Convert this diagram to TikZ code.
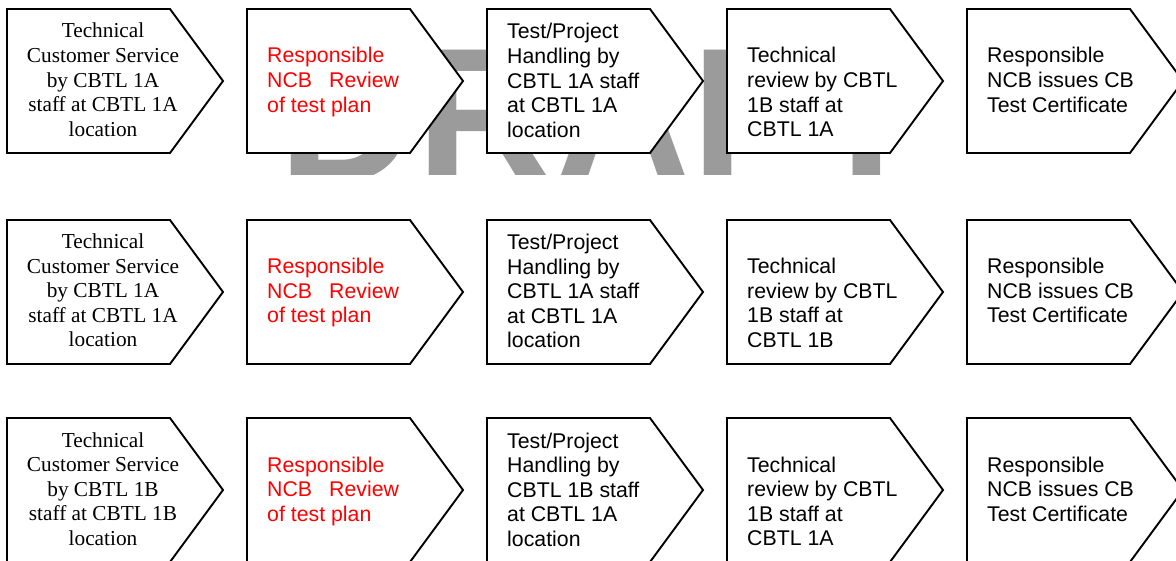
\documentclass[tikz,border=0pt]{standalone}
\usepackage{fontspec}
\setmainfont{Liberation Serif}
\setsansfont{Liberation Sans}

\definecolor{wmgrey}{RGB}{155,155,155}
\definecolor{ncbred}{RGB}{255,0,0}

\tikzset{
    chevron/.style={draw=black, fill=white, line width=1.9pt, line join=miter},
    % multi-line nodes sit on the baseline of their last line
    servtext/.style={anchor=base, align=center, inner sep=0pt,
        font=\rmfamily\fontsize{21.3}{24.6}\selectfont},
    steptext/.style={anchor=base west, align=left, inner sep=0pt,
        font=\sffamily\fontsize{21.3}{24.6}\selectfont},
    ncbtext/.style={steptext, text=ncbred},
    watermark/.style={anchor=base west, inner sep=0pt, text=wmgrey,
        font=\sffamily\bfseries\fontsize{191}{191}\selectfont},
}

% one arrow-shaped step box, top left corner at (#1,#2)
\newcommand\chevronat[2]{%
    \path[chevron] (#1,#2) -- ++(163,0) -- ++(53,72) -- ++(-53,72) -- ++(-163,0) -- cycle;}

\begin{document}
\begin{tikzpicture}[x=1pt, y=-1pt]
    \useasboundingbox (0,0) rectangle (1176,561);

    % watermark, cut off below the first row
    \begin{scope}
        \clip (0,0) rectangle (1176,175);
        \node[watermark] (draft) at (278,182) {DRAFT};
    \end{scope}

    \foreach \rowtop in {9,220,418}
        \foreach \colleft in {7,247,487,727,967}
            {\chevronat{\colleft}{\rowtop}}

    % first row
    \node[servtext] (serv1) at (103,136.4) {Technical\\Customer Service\\by CBTL 1A\\staff at CBTL 1A\\location};
    \node[ncbtext] (review1) at (267,112.2) {Responsible\\NCB\hspace{17pt}Review\\of test plan};
    \node[steptext] (handle1) at (507,137.4) {Test/Project\\Handling by\\CBTL 1A staff\\at CBTL 1A\\location};
    \node[steptext] (tech1) at (747,136.8) {Technical\\review by CBTL\\1B staff at\\CBTL 1A};
    \node[steptext] (cert1) at (987,112.2) {Responsible\\NCB issues CB\\Test Certificate};

    % second row
    \node[servtext] (serv2) at (103,346.9) {Technical\\Customer Service\\by CBTL 1A\\staff at CBTL 1A\\location};
    \node[ncbtext] (review2) at (267,322.7) {Responsible\\NCB\hspace{17pt}Review\\of test plan};
    \node[steptext] (handle2) at (507,347.9) {Test/Project\\Handling by\\CBTL 1A staff\\at CBTL 1A\\location};
    \node[steptext] (tech2) at (747,347.3) {Technical\\review by CBTL\\1B staff at\\CBTL 1B};
    \node[steptext] (cert2) at (987,322.7) {Responsible\\NCB issues CB\\Test Certificate};

    % third row
    \node[servtext] (serv3) at (103,545.4) {Technical\\Customer Service\\by CBTL 1B\\staff at CBTL 1B\\location};
    \node[ncbtext] (review3) at (267,521.2) {Responsible\\NCB\hspace{17pt}Review\\of test plan};
    \node[steptext] (handle3) at (507,546.4) {Test/Project\\Handling by\\CBTL 1B staff\\at CBTL 1A\\location};
    \node[steptext] (tech3) at (747,545.8) {Technical\\review by CBTL\\1B staff at\\CBTL 1A};
    \node[steptext] (cert3) at (987,521.2) {Responsible\\NCB issues CB\\Test Certificate};
\end{tikzpicture}
\end{document}
